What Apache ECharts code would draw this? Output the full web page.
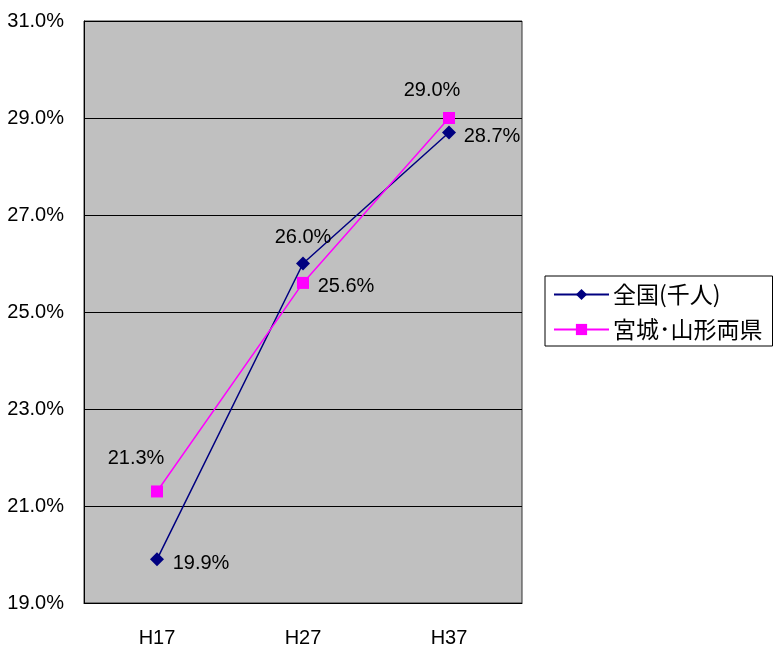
<!DOCTYPE html>
<html><head><meta charset="utf-8">
<script src="https://cdn.jsdelivr.net/npm/echarts@6/dist/echarts.min.js"></script>
<style>html,body{margin:0;padding:0;background:#fff}#c{width:774px;height:648px}</style>
</head><body><div id="c"></div>
<script>
var categories = ['H17', 'H27', 'H37'];
var seriesNames = ['全国(千人)', '宮城･山形両県'];
var nationalValues = [19.9, 26.0, 28.7];
var miyagiYamagataValues = [21.3, 25.6, 29.0];

var chart = echarts.init(document.getElementById('c'));
var FONT = '"Liberation Sans", Arial, sans-serif';
var FS = 20;
function pct(p){ return p.value.toFixed(1) + '%'; }
// label placement (style, not data)
var nationalLabelOffsets = [[44, 4], [0, -26], [43, 4]];
var miyaLabelOffsets = [[-21, -33], [43, 4], [-17, -28]];
function withLabels(values, offsets){
  return values.map(function(v, i){
    return { value: v, label: { offset: offsets[i] } };
  });
}
chart.setOption({
  animation: false,
  backgroundColor: '#fff',
  textStyle: { fontFamily: FONT },
  grid: { left: 84, right: 252, top: 21, bottom: 45, show: true, backgroundColor: '#c0c0c0', borderColor: '#333', borderWidth: 1 },
  legend: {
    orient: 'vertical', left: 545, top: 276,
    padding: [7, 10, 5, 8],
    itemGap: 12,
    itemWidth: 55, itemHeight: 14,
    borderColor: '#000', borderWidth: 1,
    textStyle: { fontSize: 23, color: '#000', fontFamily: '"Noto Sans CJK JP", sans-serif', padding: [0, 0, 0, -1] },
    data: seriesNames
  },
  xAxis: {
    type: 'category', data: categories, boundaryGap: true,
    axisLine: { lineStyle: { color: '#000', width: 1 } },
    axisTick: { inside: true, length: 6, lineStyle: { color: '#000' } },
    axisLabel: { margin: 25, fontSize: FS, color: '#000', fontFamily: FONT }
  },
  yAxis: {
    type: 'value', min: 19, max: 31, interval: 2,
    axisLine: { show: true, lineStyle: { color: '#000' } },
    axisTick: { show: true, inside: true, length: 7, lineStyle: { color: '#000' } },
    splitLine: { lineStyle: { color: '#000', width: 1 } },
    axisLabel: { margin: 20, fontSize: FS, color: '#000', fontFamily: FONT, formatter: function(v){ return v.toFixed(1) + '%'; } }
  },
  series: [
    {
      name: seriesNames[0], type: 'line', data: withLabels(nationalValues, nationalLabelOffsets),
      symbol: 'diamond', symbolSize: 14,
      lineStyle: { color: '#000080', width: 1.5 },
      itemStyle: { color: '#000080' },
      label: { show: true, formatter: pct, fontSize: FS, color: '#000', fontFamily: FONT, position: 'inside' }
    },
    {
      name: seriesNames[1], type: 'line', data: withLabels(miyagiYamagataValues, miyaLabelOffsets),
      symbol: 'rect', symbolSize: 12,
      lineStyle: { color: '#ff00ff', width: 1.5 },
      itemStyle: { color: '#ff00ff' },
      label: { show: true, formatter: pct, fontSize: FS, color: '#000', fontFamily: FONT, position: 'inside' }
    }
  ]
});
</script></body></html>
